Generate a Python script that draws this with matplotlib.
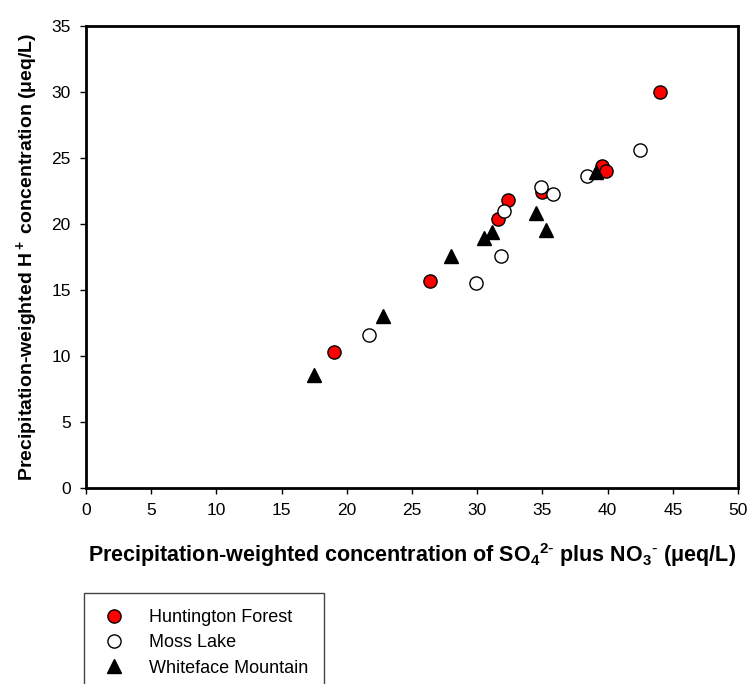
import matplotlib
matplotlib.use('Agg')
import matplotlib.pyplot as plt

plt.rcParams['font.family'] = ['Liberation Sans', 'DejaVu Sans']
plt.rcParams['mathtext.default'] = 'regular'

# Huntington Forest
hf_x = [19.0, 26.4, 31.6, 32.4, 35.0, 39.6, 39.9, 44.0]
hf_y = [10.25, 15.7, 20.4, 21.8, 22.4, 24.4, 24.0, 30.0]

# Moss Lake
ml_x = [21.7, 29.9, 31.8, 32.05, 34.9, 35.8, 38.4, 42.5]
ml_y = [11.57, 15.55, 17.6, 21.0, 22.8, 22.3, 23.6, 25.6]

# Whiteface Mountain
wm_x = [17.5, 22.75, 28.0, 30.5, 31.1, 34.5, 35.3, 39.1]
wm_y = [8.55, 13.05, 17.6, 18.95, 19.35, 20.85, 19.55, 23.95]

x_ticks = list(range(0, 51, 5))
y_ticks = list(range(0, 36, 5))

fig = plt.figure(figsize=(7.47, 6.84), dpi=100)
ax = fig.add_axes([0.115, 0.287, 0.873, 0.675])

ax.plot(hf_x, hf_y, 'o', ms=9.5, mfc='red', mec='black', mew=1, label='Huntington Forest')
ax.plot(ml_x, ml_y, 'o', ms=9.5, mfc='white', mec='black', mew=1, label='Moss Lake')
ax.plot(wm_x, wm_y, '^', ms=9.5, mfc='black', mec='black', mew=1, label='Whiteface Mountain')

ax.set_xlim(0, 50)
ax.set_ylim(0, 35)
ax.set_xticks(x_ticks)
ax.set_yticks(y_ticks)
ax.tick_params(direction='out', length=4, width=1, labelsize=12.5, pad=7)
for s in ax.spines.values():
    s.set_linewidth(2)

ax.set_xlabel('Precipitation-weighted concentration of SO$_4$$^{2\\text{-}}$ plus NO$_3$$^{\\text{-}}$ ($\\mu$eq/L)',
              fontsize=15.5, fontweight='bold', labelpad=17)
ax.set_ylabel('Precipitation-weighted H$^+$ concentration ($\\mu$eq/L)',
              fontsize=14, fontweight='bold', labelpad=8)

h, l = ax.get_legend_handles_labels()
leg = fig.legend(h, l, loc='upper left', bbox_to_anchor=(0.112, 0.133),
                 fontsize=13, frameon=True, fancybox=False, edgecolor='#444444',
                 borderpad=0.9, handletextpad=1.1, labelspacing=0.45,
                 borderaxespad=0, framealpha=1, handlelength=1.6)
leg.get_frame().set_linewidth(1)

fig.savefig('out.png', dpi=100)
